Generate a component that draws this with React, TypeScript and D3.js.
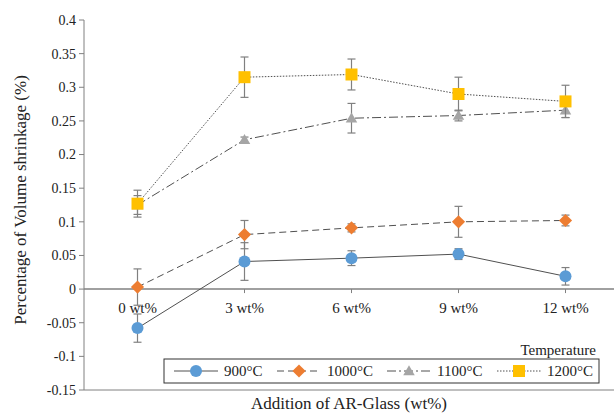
import React from 'react';
import * as d3 from 'd3';

const categories = ['0 wt%', '3 wt%', '6 wt%', '9 wt%', '12 wt%'];
const yTicks = [-0.15, -0.1, -0.05, 0, 0.05, 0.1, 0.15, 0.2, 0.25, 0.3, 0.35, 0.4];

const series900 = [-0.058, 0.041, 0.046, 0.052, 0.019];
const err900 = [0.021, 0.028, 0.011, 0.008, 0.013];
const series1000 = [0.003, 0.081, 0.091, 0.100, 0.102];
const err1000 = [0.027, 0.021, 0.006, 0.023, 0.008];
const series1100 = [0.125, 0.222, 0.254, 0.258, 0.266];
const err1100 = [0.014, 0.004, 0.022, 0.008, 0.011];
const series1200 = [0.127, 0.315, 0.319, 0.290, 0.279];
const err1200 = [0.02, 0.03, 0.023, 0.025, 0.024];

const seriesNames = ['900°C', '1000°C', '1100°C', '1200°C'];

const W = 614;
const H = 415;
const left = 84;
const right = 619;
const top = 20;
const bottom = 390;

const txt = { fontFamily: "'Times New Roman', 'Liberation Serif', serif" };

function Marker({ kind, x, y, color }: { kind: string; x: number; y: number; color: string }) {
  if (kind === 'circle') return <circle cx={x} cy={y} r={6} fill={color} />;
  if (kind === 'diamond') {
    const p = d3.symbol().type(d3.symbolDiamond2).size(110)();
    return <path d={p as string} transform={`translate(${x},${y})`} fill={color} />;
  }
  if (kind === 'triangle') {
    const p = d3.symbol().type(d3.symbolTriangle2).size(95)();
    return <path d={p as string} transform={`translate(${x},${y + 1})`} fill={color} />;
  }
  return <rect x={x - 6} y={y - 6} width={12} height={12} fill={color} />;
}

export default function App() {
  const x = d3.scaleBand<string>().domain(categories).range([left, right]);
  const y = d3.scaleLinear().domain([-0.15, 0.4]).range([bottom, top]);
  const cx = (c: string) => (x(c) as number) + x.bandwidth() / 2;

  const series = [
    { name: seriesNames[0], vals: series900, errs: err900, color: '#5B9BD5', kind: 'circle', dash: '' },
    { name: seriesNames[1], vals: series1000, errs: err1000, color: '#ED7D31', kind: 'diamond', dash: '7,4' },
    { name: seriesNames[2], vals: series1100, errs: err1100, color: '#A5A5A5', kind: 'triangle', dash: '9,3,2,3' },
    { name: seriesNames[3], vals: series1200, errs: err1200, color: '#FFC000', kind: 'square', dash: '1.5,1.5' },
  ];

  const line = d3
    .line<number>()
    .x((_, i) => cx(categories[i]))
    .y((d) => y(d));

  const legendX = [174, 277, 387, 497];

  return (
    <svg width={W} height={H} style={{ position: 'absolute', left: 0, top: 0 }}>
      <rect width={W} height={H} fill="#fff" />

      {/* y axis */}
      <line x1={left} x2={left} y1={top} y2={bottom} stroke="#808080" />
      {yTicks.map((t) => (
        <g key={t}>
          <line x1={left - 5} x2={left} y1={y(t)} y2={y(t)} stroke="#808080" />
          <text x={left - 8} y={y(t)} dy="0.35em" textAnchor="end" fontSize={14} fill="#222" style={txt}>
            {t}
          </text>
        </g>
      ))}
      <text
        transform={`translate(26,${(top + bottom) / 2 - 5}) rotate(-90)`}
        textAnchor="middle"
        fontSize={17}
        fill="#222"
        style={txt}
      >
        Percentage of Volume shrinkage (%)
      </text>

      {/* bottom border */}
      <line x1={left} x2={W} y1={bottom} y2={bottom} stroke="#808080" />

      {/* category axis at zero */}
      <line x1={left} x2={W} y1={y(0)} y2={y(0)} stroke="#808080" strokeWidth={1.5} />
      {categories.map((c) => (
        <g key={c}>
          <line x1={cx(c)} x2={cx(c)} y1={y(0)} y2={y(0) + 4} stroke="#808080" />
          <text x={cx(c)} y={y(0) + 24} textAnchor="middle" fontSize={15} fill="#222" style={txt}>
            {c}
          </text>
        </g>
      ))}
      <text x={349} y={409} textAnchor="middle" fontSize={17} fill="#222" style={txt}>
        Addition of AR-Glass (wt%)
      </text>

      {/* series */}
      {series.map((s) => (
        <g key={s.name}>
          <path d={line(s.vals) as string} fill="none" stroke="#505050" strokeWidth={1} strokeDasharray={s.dash} />
          {s.vals.map((v, i) => {
            const px = cx(categories[i]);
            const y1 = y(v + s.errs[i]);
            const y2 = y(v - s.errs[i]);
            return (
              <g key={i} stroke="#808080" strokeWidth={1.2}>
                <line x1={px} x2={px} y1={y1} y2={y2} />
                <line x1={px - 4} x2={px + 4} y1={y1} y2={y1} />
                <line x1={px - 4} x2={px + 4} y1={y2} y2={y2} />
              </g>
            );
          })}
          {s.vals.map((v, i) => (
            <Marker key={i} kind={s.kind} x={cx(categories[i])} y={y(v)} color={s.color} />
          ))}
        </g>
      ))}

      {/* legend */}
      <text x={596} y={355} textAnchor="end" fontSize={15} fill="#222" style={txt}>
        Temperature
      </text>
      <rect x={164} y={359} width={435} height={24} fill="#fff" stroke="#333" strokeWidth={1} />
      {series.map((s, i) => {
        const lx = legendX[i];
        return (
          <g key={s.name}>
            <line x1={lx} x2={lx + 44} y1={371} y2={371} stroke="#505050" strokeDasharray={s.dash} />
            <Marker kind={s.kind} x={lx + 22} y={371} color={s.color} />
            <text x={lx + 50} y={371} dy="0.35em" fontSize={15} fill="#222" style={txt}>
              {s.name}
            </text>
          </g>
        );
      })}
    </svg>
  );
}
